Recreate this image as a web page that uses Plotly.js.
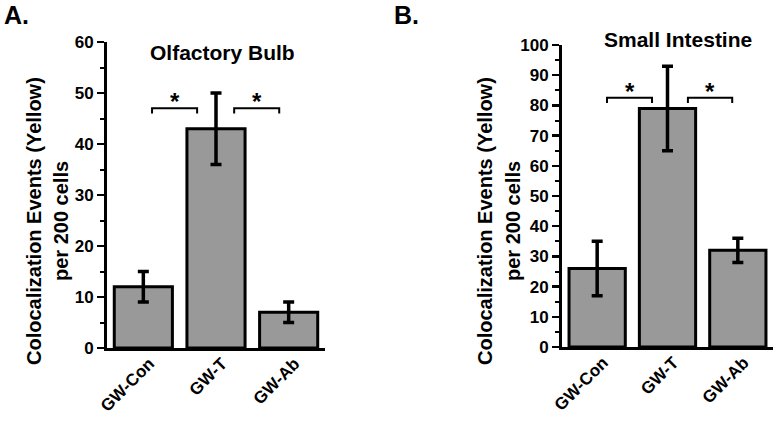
<!DOCTYPE html>
<html><head><meta charset="utf-8">
<script src="https://cdn.plot.ly/plotly-3.0.1.min.js"></script>
<style>html,body{margin:0;padding:0;background:#fff}#c{width:777px;height:421px}</style>
</head><body><div id="c"></div>
<script>
const categories = ['GW-Con', 'GW-T', 'GW-Ab'];
const olfactoryMeans = [12, 43, 7];
const olfactoryErr = [3, 7, 2];
const intestineMeans = [26, 79, 32];
const intestineErr = [9, 14, 4];
const olfactoryBrackets = [[0.12, 0.74, 47], [1.25, 1.87, 47]];
const intestineBrackets = [[0.14, 0.78, 82.5], [1.29, 1.92, 82.5]];
const panelTitles = ['Olfactory Bulb', 'Small Intestine'];
const panelLetters = ['A.', 'B.'];
const yTitle1 = 'Colocalization Events (Yellow)';
const yTitle2 = 'per 200 cells';

const FONT = 'Liberation Sans, Arial, sans-serif';
function barTrace(y, e, xa, ya) {
  return {type: 'bar', x: categories, y: y, xaxis: xa, yaxis: ya,
    marker: {color: '#999999', line: {color: '#000', width: 3}},
    error_y: {type: 'data', array: e, visible: true, color: '#000', thickness: 3.5, width: 5.5},
    showlegend: false, hoverinfo: 'none'};
}
const data = [barTrace(olfactoryMeans, olfactoryErr, 'x', 'y'),
              barTrace(intestineMeans, intestineErr, 'x2', 'y2')];

const shapes = [];
const annotations = [];
function addBrackets(list, xr, yr, dip, starOff) {
  list.forEach(b => {
    shapes.push({type: 'path', xref: xr, yref: yr,
      path: `M ${b[0]} ${b[2]-dip} L ${b[0]} ${b[2]} L ${b[1]} ${b[2]} L ${b[1]} ${b[2]-dip}`,
      line: {color: '#000', width: 2}});
    annotations.push({xref: xr, yref: yr, x: (b[0]+b[1])/2, y: b[2]+starOff, text: '<b>*</b>',
      showarrow: false, yanchor: 'bottom', font: {family: FONT, size: 24, color: '#000'}});
  });
}
addBrackets(olfactoryBrackets, 'x', 'y', 1, -1.8);
addBrackets(intestineBrackets, 'x2', 'y2', 1.7, -3);

function ann(text, x, y, size, angle) {
  annotations.push({xref: 'paper', yref: 'paper', x: x/777, y: 1 - y/421, text: '<b>'+text+'</b>',
    showarrow: false, xanchor: 'center', yanchor: 'middle', textangle: angle || 0,
    font: {family: FONT, size: size, color: '#000'}});
}
ann(panelTitles[0], 222, 53, 21);
ann(panelTitles[1], 678, 40, 21);
ann(panelLetters[0], 16, 15, 25);
ann(panelLetters[1], 406, 15, 25);
ann(yTitle1, 34, 221, 20, -90);
ann(yTitle2, 61, 221, 20, -90);
ann(yTitle1, 485, 221, 20, -90);
ann(yTitle2, 513, 221, 20, -90);

const ytickfont = {family: FONT, size: 17, color: '#000', weight: 'bold'};
const xtickfont = {family: FONT, size: 17, color: '#000', weight: 'bold'};
function xaxis(d, anchor) {
  return {domain: d, anchor: anchor, type: 'category', range: [-0.5, 2.5], showline: true,
    linecolor: '#000', linewidth: 3, ticks: '', tickangle: -45, tickfont: xtickfont,
    ticklabelstandoff: -4, ticklabelshift: 6,
    showgrid: false, zeroline: false, fixedrange: true};
}
function yaxis(d, anchor, max) {
  return {domain: d, anchor: anchor, range: [0, max], dtick: 10, showline: true,
    linecolor: '#000', linewidth: 3, ticks: 'outside', ticklen: 7, tickwidth: 2.5,
    tickcolor: '#000', tickfont: ytickfont, showgrid: false, zeroline: false,
    minor: {dtick: 5, ticks: 'outside', ticklen: 4, tickwidth: 2, tickcolor: '#000'},
    fixedrange: true};
}
const layout = {
  width: 777, height: 421, margin: {l: 0, r: 0, t: 0, b: 0},
  paper_bgcolor: '#fff', plot_bgcolor: '#fff', bargap: 0.2,
  xaxis: xaxis([107/777, 325/777], 'y'),
  yaxis: yaxis([1-348/421, 1-42/421], 'x', 60),
  xaxis2: xaxis([562/777, 773/777], 'y2'),
  yaxis2: yaxis([1-347/421, 1-45/421], 'x2', 100),
  shapes: shapes, annotations: annotations
};
Plotly.newPlot('c', data, layout, {displayModeBar: false, staticPlot: true});
</script></body></html>
